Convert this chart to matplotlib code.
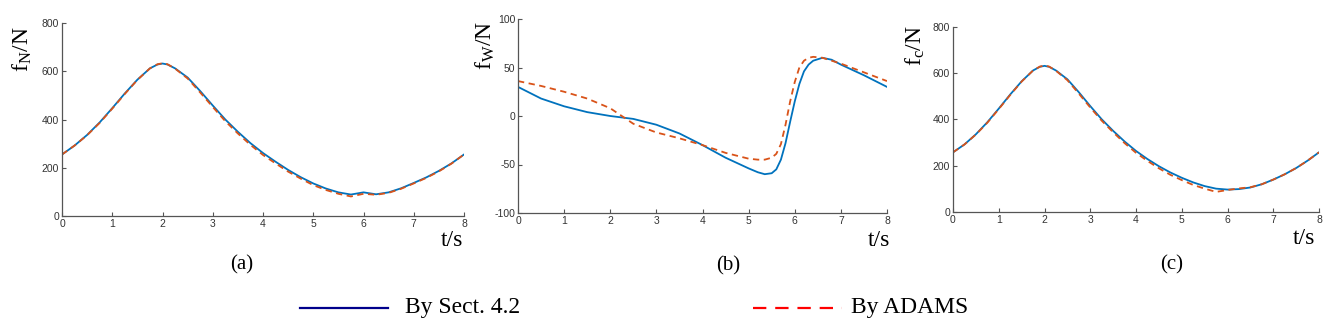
import matplotlib.pyplot as plt
from matplotlib.lines import Line2D

plt.rcParams['mathtext.fontset'] = 'custom'
plt.rcParams['mathtext.rm'] = 'Liberation Serif'
plt.rcParams['mathtext.it'] = 'Liberation Serif:italic'
plt.rcParams['axes.unicode_minus'] = False

# time samples (s)
t = [0, 0.25, 0.5, 0.75, 1.0, 1.25, 1.5, 1.75, 1.9, 2.0, 2.1, 2.25, 2.5, 2.75, 3.0,
     3.25, 3.5, 3.75, 4.0, 4.25, 4.5, 4.75, 5.0, 5.25, 5.5, 5.75, 6.0, 6.25, 6.5,
     6.75, 7.0, 7.25, 7.5, 7.75, 8.0]

# (a) f_N
fN_sect = [255, 292, 336, 388, 447, 508, 565, 612, 628, 632, 628, 612, 574, 518, 458,
           400, 349, 302, 261, 225, 191, 161, 135, 114, 98, 89, 98, 90, 98,
           115, 137, 160, 187, 218, 255]
fN_adams = [255, 292, 335, 386, 445, 506, 564, 612, 629, 633, 629, 611, 570, 512, 452,
            393, 342, 295, 253, 218, 184, 155, 128, 108, 92, 81, 92, 88, 96,
            113, 135, 158, 185, 217, 255]

# (b) f_W (finer sampling around the jump)
tb = [0, 0.5, 1.0, 1.5, 2.0, 2.5, 3.0, 3.5, 4.0, 4.5, 5.0, 5.2, 5.35, 5.5, 5.6, 5.7,
      5.8, 5.9, 6.0, 6.1, 6.2, 6.3, 6.4, 6.6, 6.8, 7.0, 7.5, 8.0]
fW_sect = [30, 18, 10, 4, 0, -3, -9, -18, -30, -43, -54, -58, -60, -59, -55, -45,
           -28, -6, 15, 33, 46, 53, 57, 60, 58, 53, 42, 30]
fW_adams = [36, 31, 25, 18, 8, -8, -17, -23, -30, -38, -44, -45, -45, -43, -39, -29,
            -9, 15, 35, 50, 57, 60, 61, 60, 57, 54, 45, 36]

# (c) f_c
fc_sect = [258, 292, 336, 388, 447, 508, 565, 612, 628, 632, 628, 612, 574, 518, 458,
           401, 351, 305, 264, 229, 198, 171, 148, 128, 112, 101, 97, 99, 106,
           120, 140, 163, 190, 222, 258]
fc_adams = [258, 292, 335, 386, 445, 506, 564, 612, 629, 633, 629, 611, 570, 512, 452,
            395, 345, 298, 256, 221, 189, 161, 138, 117, 101, 87, 95, 102, 107,
            120, 140, 163, 190, 222, 258]

W, H = 1339, 332
fig = plt.figure(figsize=(W / 100, H / 100), dpi=100)


def box(l, r, top, bot):
    return [l / W, 1 - bot / H, (r - l) / W, (bot - top) / H]


blue = '#0072BD'
orange = '#D95319'


def panel(rect, x1, y1, x2, y2, ylim, yticks):
    ax = fig.add_axes(rect)
    ax.plot(x1, y1, color=blue, lw=1.3)
    ax.plot(x2, y2, color=orange, lw=1.3, ls=(0, (3.5, 2.5)))
    ax.set_xlim(0, 8)
    ax.set_ylim(*ylim)
    ax.set_xticks(range(9))
    ax.set_yticks(yticks)
    for s in ['top', 'right']:
        ax.spines[s].set_visible(False)
    for s in ['left', 'bottom']:
        ax.spines[s].set_color('#555555')
        ax.spines[s].set_linewidth(0.9)
    ax.tick_params(direction='in', length=3, width=0.8, color='#555555',
                   labelsize=7.5, labelcolor='#333333', pad=2)
    for lab in ax.get_xticklabels() + ax.get_yticklabels():
        lab.set_family('Liberation Sans')
    return ax


panel(box(62, 464, 23, 216), t, fN_sect, t, fN_adams, (0, 800), [0, 200, 400, 600, 800])
panel(box(518, 887, 19, 213), tb, fW_sect, tb, fW_adams, (-100, 100), [-100, -50, 0, 50, 100])
panel(box(953, 1319, 27, 212), t, fc_sect, t, fc_adams, (0, 800), [0, 200, 400, 600, 800])

serif = 'Liberation Serif'


def ftext(x, y, s, size, **kw):
    fig.text(x / W, 1 - y / H, s, fontsize=size, family=serif, ha='center', va='center', **kw)


ftext(22, 49, r'$\mathrm{f_N/N}$', 17, rotation=90)
ftext(485, 45, r'$\mathrm{f_W/N}$', 17, rotation=90)
ftext(915, 46, r'$\mathrm{f_c/N}$', 17, rotation=90)

ftext(452, 240, 't/s', 17)
ftext(879, 240, 't/s', 17)
ftext(1304, 238, 't/s', 17)

ftext(242, 265, '(a)', 15)
ftext(728, 266, '(b)', 15)
ftext(1172, 265, '(c)', 15)

# legend
fig.add_artist(Line2D([300 / W, 388 / W], [1 - 308 / H] * 2, color='#00008B', lw=1.6))
fig.add_artist(Line2D([753 / W, 842 / W], [1 - 308 / H] * 2, color='#FF0000', lw=1.6,
                      ls=(0, (6, 4))))
fig.text(405 / W, 1 - 307 / H, 'By Sect. 4.2', fontsize=17, family=serif, va='center')
fig.text(851 / W, 1 - 307 / H, 'By ADAMS', fontsize=17, family=serif, va='center')

fig.savefig('out.png', dpi=100)
